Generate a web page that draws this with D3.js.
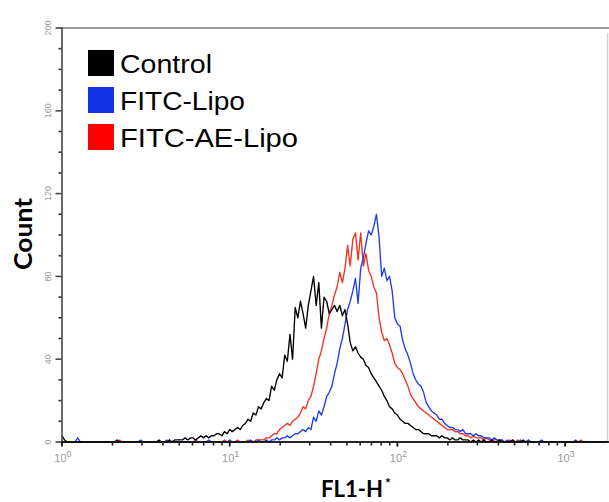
<!DOCTYPE html>
<html>
<head>
<meta charset="utf-8">
<script src="https://cdn.jsdelivr.net/npm/d3@7/dist/d3.min.js"></script>
<style>
	body { margin: 0; background: #fff; }
	svg { display: block; }
</style>
</head>
<body>
<div id="chart"></div>
<script>
// FL1-H histogram, 64 log channels per decade, channel 0 = 10^0
var binsPerDecade = 64;

var seriesNames = ["Control", "FITC-Lipo", "FITC-AE-Lipo"];
var seriesColors = ["#000000", "#1f3cf0", "#f2311f"];
var legendColors = ["#000000", "#1432e6", "#ff0000"];

var controlCounts = [
	3,1,0,0,0,0,0,0,0,0,
	0,0,0,0,0,0,0,0,0,0,
	0,1,0,0,0,0,0,0,0,0,
	0,0,0,0,0,0,0,1,0,0,
	0,1,0,1,1,1,1,2,1,2,
	2,1,2,3,2,3,2,3,3,4,
	4,3,5,4,6,5,6,7,6,8,
	9,11,10,14,13,17,16,19,21,20,
	27,25,30,33,31,42,39,52,40,65,
	60,68,62,55,66,73,80,66,77,55,
	70,68,62,64,66,63,66,61,64,57,
	48,44,46,43,41,40,37,36,33,31,
	29,27,25,22,20,17,16,14,13,11,
	10,9,9,8,7,6,6,5,4,4,
	4,3,3,3,2,3,2,2,1,2,
	1,1,2,1,1,1,0,1,0,1,
	0,1,0,0,1,0,0,1,0,0,
	0,0,1,0,0,0,1,0,0,0,
	0,0,0,0,0,0,0,0,0,0,
	0,0,0,0,0,0,0,0,0,0,
	0,0,0,0,0,0,0,0,0
];

var fitcLipoCounts = [
	0,0,0,0,0,0,2,0,0,0,
	0,0,0,0,0,0,0,0,0,0,
	0,0,0,0,0,0,0,0,0,0,
	1,0,0,0,0,0,0,0,0,0,
	1,0,0,0,0,0,0,0,0,0,
	0,0,0,0,0,0,1,0,0,0,
	0,0,0,0,1,0,0,0,0,0,
	0,0,1,0,0,1,0,0,1,0,
	1,1,2,1,2,2,3,2,3,4,
	4,5,6,5,7,6,12,10,15,13,
	17,22,24,27,33,38,45,50,57,64,
	68,73,79,67,84,89,96,102,100,104,
	110,99,80,84,78,80,73,60,57,56,
	49,45,42,38,33,30,28,27,24,19,
	17,15,14,13,11,11,9,8,7,7,
	6,6,5,6,4,4,4,3,4,3,
	3,2,2,2,1,2,1,1,1,0,
	1,0,1,0,0,1,0,0,1,0,
	0,0,0,1,0,0,0,0,0,0,
	0,0,0,0,0,0,1,0,0,0,
	0,0,0,0,0,0,0,0,0
];

var fitcAeLipoCounts = [
	0,0,0,0,0,0,0,0,0,0,
	0,0,0,0,0,0,0,0,0,0,
	0,0,1,0,0,0,0,0,0,0,
	0,0,0,0,0,0,0,0,0,0,
	0,1,0,0,0,0,0,0,0,0,
	0,1,0,0,0,0,0,0,0,0,
	0,0,1,0,0,0,0,1,0,0,
	0,1,0,0,1,1,1,1,2,2,
	3,4,4,6,7,8,9,8,10,11,
	12,14,17,16,20,22,27,33,40,44,
	50,55,62,66,71,75,82,77,84,95,
	85,98,101,88,101,85,91,83,80,75,
	72,60,53,49,50,47,43,38,36,35,
	33,30,27,23,21,19,17,16,15,14,
	13,12,11,10,9,8,7,6,6,6,
	5,5,4,4,3,3,2,3,2,2,
	2,1,2,1,1,1,1,0,1,0,
	0,1,0,0,1,0,0,0,1,0,
	0,0,0,0,0,0,0,0,0,0,
	0,0,0,0,0,0,0,0,1,0,
	0,0,0,0,0,0,0,0,0
];

var yTickValues = [0, 40, 80, 120, 160, 200];
var xDecades = [1, 10, 100, 1000];
var xDecadeExponents = ["0", "1", "2", "3"];

var width = 609,
	height = 502,
	plotLeft = 62,
	plotRight = 609,
	plotTop = 28,
	plotBottom = 442,
	tickFont = "'Liberation Sans', Arial, sans-serif",
	tickColor = "#9a9a9a";

var svg = d3.select("#chart").append("svg")
	.attr("width", width)
	.attr("height", height);

var x = d3.scaleLog()
	.domain([1, Math.pow(10, (plotRight - plotLeft) / 167.7)])
	.range([plotLeft, plotRight]);

var y = d3.scaleLinear()
	.domain([0, 200])
	.range([plotBottom, plotTop]);

function channelValue(i) {
	return Math.pow(10, i / binsPerDecade);
}

function drawBorders() {
	// grey top border and faint right border of the plot box
	svg.append("rect")
		.attr("x", plotLeft - 1).attr("y", plotTop - 1)
		.attr("width", plotRight - plotLeft + 1).attr("height", 2)
		.attr("fill", "#9c9c9c");
	svg.append("rect")
		.attr("x", 606.8).attr("y", plotTop + 5)
		.attr("width", 1.5).attr("height", plotBottom - plotTop - 5)
		.attr("fill", "#d4d4d4");
}

function drawAxes() {
	var yMinor = d3.range(0, 201, 10).filter(function (v) { return v % 40 !== 0; });
	var xMinor = [];
	xDecades.forEach(function (d) {
		for (var k = 2; k <= 9; k++) {
			if (d * k < x.domain()[1]) xMinor.push(d * k);
		}
	});

	// left axis: thin filled rects so they survive any stroke quirks
	svg.append("rect")
		.attr("x", plotLeft - 0.8).attr("y", y(200) - 1)
		.attr("width", 1.6).attr("height", y(0) - y(200) + 1)
		.attr("fill", "#4a4a4a");
	svg.selectAll("rect.yminor")
		.data(yMinor)
		.enter()
		.append("rect")
		.attr("class", "yminor")
		.attr("x", plotLeft - 3.5)
		.attr("y", function (d) { return y(d) - 0.8; })
		.attr("width", 3).attr("height", 1.6)
		.attr("fill", "#333333");
	svg.selectAll("rect.ymajor")
		.data(yTickValues)
		.enter()
		.append("rect")
		.attr("class", "ymajor")
		.attr("x", plotLeft - 6.5)
		.attr("y", function (d) { return y(d) - 0.8; })
		.attr("width", 6).attr("height", 1.6)
		.attr("fill", "#444444");

	// bottom axis
	svg.append("rect")
		.attr("x", plotLeft - 0.8).attr("y", plotBottom - 0.9)
		.attr("width", plotRight - plotLeft + 0.8).attr("height", 1.8)
		.attr("fill", "#111111");
	svg.selectAll("rect.xminor")
		.data(xMinor)
		.enter()
		.append("rect")
		.attr("class", "xminor")
		.attr("x", function (d) { return x(d) - 0.8; })
		.attr("y", plotBottom)
		.attr("width", 1.6).attr("height", 3.5)
		.attr("fill", "#222222");
	svg.selectAll("rect.xmajor")
		.data(xDecades)
		.enter()
		.append("rect")
		.attr("class", "xmajor")
		.attr("x", function (d) { return x(d) - 0.9; })
		.attr("y", plotBottom)
		.attr("width", 1.8).attr("height", 4.5)
		.attr("fill", "#111111");
}

function drawTickLabels() {
	svg.selectAll("text.ylab")
		.data(yTickValues)
		.enter()
		.append("text")
		.attr("class", "ylab")
		.attr("transform", function (d) {
			return "translate(" + (plotLeft - 11) + "," + y(d) + ") rotate(-90)";
		})
		.attr("text-anchor", "middle")
		.style("font-family", tickFont)
		.style("font-size", "9px")
		.style("fill", tickColor)
		.text(function (d) { return d; });

	var labels = svg.selectAll("text.xlab")
		.data(xDecades)
		.enter()
		.append("text")
		.attr("class", "xlab")
		.attr("x", function (d) { return x(d) + 1; })
		.attr("y", plotBottom + 20)
		.attr("text-anchor", "middle")
		.style("font-family", tickFont)
		.style("font-size", "11px")
		.style("fill", tickColor);
	labels.append("tspan").text("10");
	labels.append("tspan")
		.attr("dy", -5)
		.style("font-size", "9px")
		.text(function (d, i) { return xDecadeExponents[i]; });
}

function drawHistograms() {
	var line = d3.line()
		.x(function (d, i) { return x(channelValue(i)); })
		.y(function (d) { return y(d); });

	// red under blue under black, as in the figure
	var order = [2, 1, 0];
	var all = [controlCounts, fitcLipoCounts, fitcAeLipoCounts];
	order.forEach(function (s) {
		svg.append("path")
			.datum(all[s])
			.attr("d", line)
			.attr("fill", "none")
			.attr("stroke", seriesColors[s])
			.attr("stroke-width", 1.35)
			.attr("stroke-linejoin", "round");
	});
}

function drawLegend() {
	var textWidths = [92, 125, 178];
	var rows = svg.selectAll("g.legend")
		.data(seriesNames)
		.enter()
		.append("g")
		.attr("class", "legend")
		.attr("transform", function (d, i) {
			return "translate(88," + (50 + i * 37) + ")";
		});
	rows.append("rect")
		.attr("width", 26)
		.attr("height", 26)
		.attr("fill", function (d, i) { return legendColors[i]; });
	rows.append("text")
		.attr("x", 32)
		.attr("y", 23)
		.attr("textLength", function (d, i) { return textWidths[i]; })
		.attr("lengthAdjust", "spacingAndGlyphs")
		.style("font-family", "'Liberation Sans', Arial, sans-serif")
		.style("font-size", "25px")
		.style("fill", "#000")
		.text(function (d) { return d; });
}

function drawAxisTitles() {
	svg.append("text")
		.attr("transform", "translate(32,234) rotate(-90)")
		.attr("text-anchor", "middle")
		.attr("textLength", 72)
		.attr("lengthAdjust", "spacingAndGlyphs")
		.style("font-family", "Lato, 'Open Sans', sans-serif")
		.style("font-weight", "bold")
		.style("font-size", "25px")
		.text("Count");

	var t = svg.append("text")
		.attr("x", 321)
		.attr("y", 497)
		.style("font-family", "Lato, 'Open Sans', sans-serif")
		.style("font-weight", "bold")
		.style("font-size", "22px");
	t.append("tspan").attr("textLength", 62).attr("lengthAdjust", "spacingAndGlyphs").text("FL1-H");
	t.append("tspan").attr("dx", 2).attr("dy", -9).style("font-size", "14px").text("*");
}

drawBorders();
drawHistograms();
drawTickLabels();
drawLegend();
drawAxisTitles();
drawAxes();
</script>
</body>
</html>
